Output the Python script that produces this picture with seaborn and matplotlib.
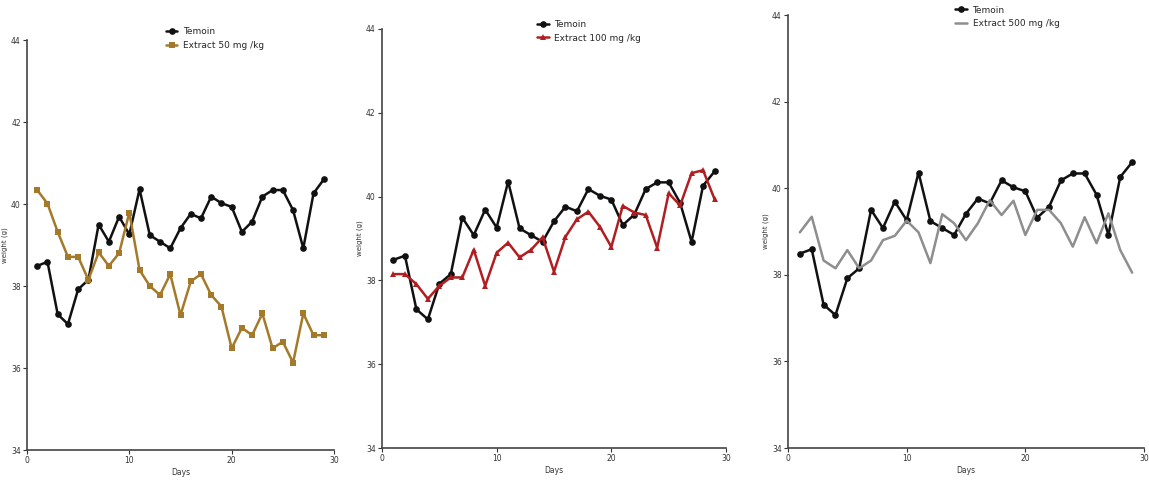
import numpy as np
import pandas as pd
import matplotlib
matplotlib.use("Agg")
import matplotlib.pyplot as plt
import seaborn as sns

days = list(range(1, 30))
temoin = [38.49, 38.59, 37.31, 37.07, 37.92, 38.15, 39.50, 39.08, 39.69, 39.26,
          40.36, 39.24, 39.08, 38.92, 39.41, 39.76, 39.65, 40.18, 40.02, 39.93,
          39.32, 39.57, 40.18, 40.34, 40.34, 39.85, 38.92, 40.26, 40.60]
extract_50 = [40.34, 40.01, 39.32, 38.71, 38.71, 38.15, 38.82, 38.49, 38.80, 39.79,
              38.39, 38.00, 37.78, 38.29, 37.29, 38.11, 38.29, 37.78, 37.50, 36.48,
              36.98, 36.80, 37.33, 36.48, 36.64, 36.13, 37.33, 36.80, 36.80]
extract_100 = [38.15, 38.15, 37.91, 37.56, 37.87, 38.07, 38.07, 38.73, 37.87, 38.66,
               38.90, 38.55, 38.73, 39.03, 38.21, 39.04, 39.46, 39.64, 39.28, 38.80,
               39.78, 39.62, 39.56, 38.78, 40.08, 39.79, 40.56, 40.63, 39.94]
extract_500 = [38.98, 39.34, 38.33, 38.15, 38.57, 38.15, 38.33, 38.80, 38.90, 39.25,
               38.98, 38.27, 39.40, 39.19, 38.80, 39.19, 39.72, 39.38, 39.71, 38.92,
               39.50, 39.50, 39.19, 38.65, 39.33, 38.73, 39.42, 38.57, 38.05]

labels = ["Temoin", "Extract 50 mg /kg", "Extract 100 mg /kg", "Extract 500 mg /kg"]
y_ticks = [34, 36, 38, 40, 42, 44]
x_ticks = [0, 10, 20, 30]

W, H = 1149, 484
fig = plt.figure(figsize=(W / 100, H / 100), dpi=100)
sns.set_style("white")

# pixel boxes: left, right, top(y=44), bottom(y=34)
boxes = [(27, 334, 40, 450), (382, 726, 29, 448), (788, 1144, 15, 448)]
panels = [
    (extract_50, labels[1], "#a47a2a", "s"),
    (extract_100, labels[2], "#b01e22", "^"),
    (extract_500, labels[3], "#8e8e8e", None),
]
legend_anchor = [(0.44, 1.04), (0.44, 1.03), (0.46, 1.03)]

for (l, r, t, b), (ext, lab, col, mk), anc in zip(boxes, panels, legend_anchor):
    ax = fig.add_axes([l / W, 1 - b / H, (r - l) / W, (b - t) / H])
    df = pd.DataFrame({
        "Days": days * 2,
        "weight": temoin + ext,
        "group": [labels[0]] * len(days) + [lab] * len(days),
    })
    markers = {labels[0]: "o", lab: mk if mk else ","}
    sns.lineplot(data=df, x="Days", y="weight", hue="group", style="group",
                 palette={labels[0]: "#111111", lab: col},
                 markers=markers, dashes=False, linewidth=1.8,
                 markersize=4.8, markeredgewidth=0, ax=ax, legend=True)
    if mk is None:
        for line in ax.lines:
            if np.allclose(matplotlib.colors.to_rgb(line.get_color()),
                           matplotlib.colors.to_rgb(col), atol=0.02):
                line.set_marker("")
    ax.set_xlim(0, 30)
    ax.set_ylim(34, 44)
    ax.set_xticks(x_ticks)
    ax.set_yticks(y_ticks)
    ax.tick_params(axis="both", labelsize=5.5, length=3, width=0.8,
                   direction="out", colors="#333333", pad=1.5, left=True, bottom=True)
    for side in ["top", "right"]:
        ax.spines[side].set_visible(False)
    for side in ["left", "bottom"]:
        ax.spines[side].set_color("#444444")
        ax.spines[side].set_linewidth(1.2)
    ax.set_xlabel("Days", fontsize=5.5, labelpad=2, color="#333333")
    ax.set_ylabel("weight (g)", fontsize=5, labelpad=2, color="#333333")
    handles, hl = ax.get_legend_handles_labels()
    leg = ax.legend(handles=handles, labels=hl, loc="upper left", bbox_to_anchor=anc,
                    frameon=False, fontsize=6.5, handlelength=1.3, handletextpad=0.6,
                    labelspacing=0.5, borderaxespad=0)
    if mk is None:
        for h in leg.legend_handles:
            if np.allclose(matplotlib.colors.to_rgb(h.get_color()),
                           matplotlib.colors.to_rgb(col), atol=0.02):
                h.set_marker("")

fig.savefig("out.png", dpi=100)
